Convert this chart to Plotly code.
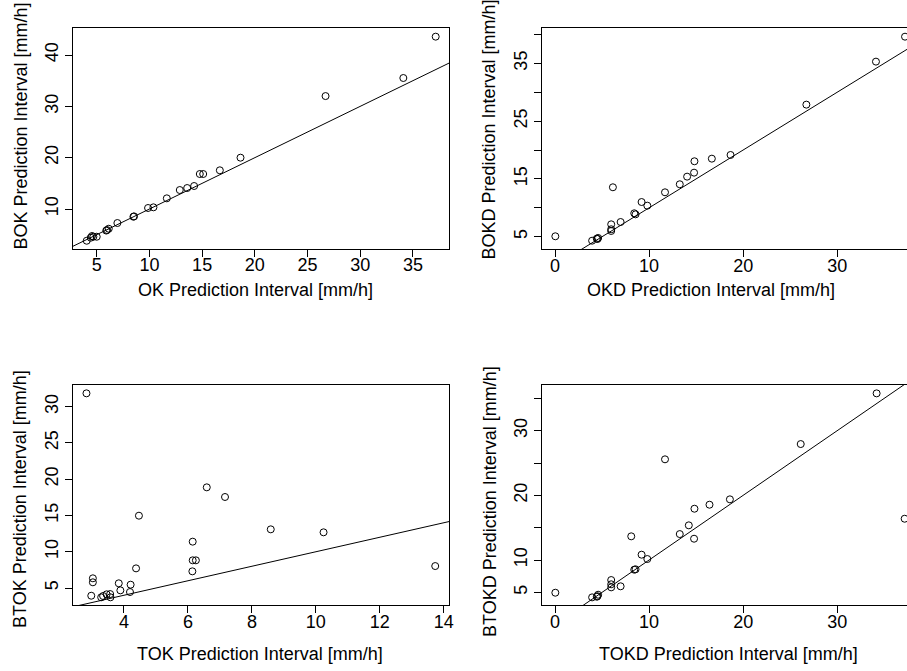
import plotly.graph_objects as go

# ---------------- data ----------------
ok_x = [37.16, 34.09, 26.71, 18.64, 16.68, 14.78, 15.10, 14.24, 13.58, 12.88, 11.65, 10.38,
        9.87, 8.54, 8.48, 6.96, 6.14, 5.98, 5.90, 5.00, 4.68, 4.55, 4.43, 4.05]
bok_y = [43.57, 35.52, 32.00, 20.00, 17.54, 16.82, 16.82, 14.48, 14.09, 13.70, 12.08, 10.33,
         10.20, 8.57, 8.50, 7.27, 6.16, 5.91, 5.80, 4.60, 4.60, 4.74, 4.41, 3.82]

okd_x = [37.21, 34.12, 26.72, 18.66, 16.67, 14.82, 14.78, 14.04, 13.26, 11.69, 9.20, 9.81,
         8.56, 8.42, 6.97, 6.15, 5.97, 5.97, 5.97, 4.58, 4.44, 4.51, 3.94, 0.03]
bokd_y = [39.61, 35.29, 27.85, 19.14, 18.50, 18.05, 16.08, 15.39, 14.07, 12.68, 11.00, 10.37,
          8.87, 9.05, 7.54, 13.55, 7.14, 6.28, 5.99, 4.78, 4.66, 4.60, 4.31, 5.07]

tok_x = [2.83, 6.59, 7.16, 4.47, 8.59, 10.24, 6.15, 6.15, 6.25, 6.14, 13.73, 4.38,
         3.03, 3.03, 2.98, 3.84, 3.89, 4.21, 4.19, 3.29, 3.35, 3.46, 3.57, 3.58]
btok_y = [31.84, 18.88, 17.55, 14.97, 13.09, 12.68, 11.39, 8.82, 8.82, 7.30, 8.03, 7.71,
          6.34, 5.79, 3.94, 5.65, 4.68, 5.46, 4.45, 3.72, 3.90, 4.13, 4.17, 3.72]

tokd_x = [34.19, 26.12, 11.69, 18.59, 16.42, 14.82, 14.22, 13.26, 14.78, 8.10, 9.20, 9.81,
          8.56, 8.42, 5.97, 5.97, 5.97, 6.97, 4.58, 4.44, 4.51, 3.94, 0.03, 37.17]
btokd_y = [35.77, 27.93, 25.57, 19.38, 18.55, 17.93, 15.36, 14.01, 13.29, 13.66, 10.82, 10.15,
           8.56, 8.50, 6.90, 6.24, 5.77, 5.93, 4.63, 4.32, 4.40, 4.22, 4.94, 16.38]

identity = [-10, 60]  # 1:1 reference line y = x

x_titles = ["OK Prediction Interval [mm/h]", "OKD Prediction Interval [mm/h]",
            "TOK Prediction Interval [mm/h]", "TOKD Prediction Interval [mm/h]"]
y_titles = ["BOK Prediction Interval [mm/h]", "BOKD Prediction Interval [mm/h]",
            "BTOK Prediction Interval [mm/h]", "BTOKD Prediction Interval [mm/h]"]

p1_xticks = [5, 10, 15, 20, 25, 30, 35]
p1_yticks = [10, 20, 30, 40]
p2_xticks = [0, 10, 20, 30]
p2_yticks = [5, 10, 15, 20, 25, 30, 35, 40]
p2_ytext = ["5", "", "15", "", "25", "", "35", ""]
p3_xticks = [4, 6, 8, 10, 12, 14]
p3_yticks = [5, 10, 15, 20, 25, 30]
p4_xticks = [0, 10, 20, 30]
p4_yticks = [5, 10, 15, 20, 25, 30, 35]
p4_ytext = ["5", "10", "", "20", "", "30", ""]

# ---------------- layout geometry ----------------
W, H = 907, 671
FONT = "Liberation Sans, Arial, Helvetica, sans-serif"
FS = 18

def px_x(p):
    return p / W

def px_y(p):
    return 1 - p / H

panels = [
    dict(x=ok_x, y=bok_y, xd=[72.7, 449.3], yd=[28.3, 248.7], xr=[2.72, 38.45], yr=[2.27, 45.2],
         xt=p1_xticks, yt=p1_yticks, ytt=[str(v) for v in p1_yticks], full=True,
         xtitle=(255.3, 290), ytitle=(20.7, 125.8)),
    dict(x=okd_x, y=bokd_y, xd=[541.7, 907], yd=[28.3, 249], xr=[-1.42, 37.42], yr=[2.87, 41.06],
         xt=p2_xticks, yt=p2_yticks, ytt=p2_ytext, full=False,
         xtitle=(710.8, 290), ytitle=(489.3, 129.2)),
    dict(x=tok_x, y=btok_y, xd=[72.7, 449.3], yd=[384.7, 605], xr=[2.40, 14.17], yr=[2.66, 33.03],
         xt=p3_xticks, yt=p3_yticks, ytt=[str(v) for v in p3_yticks], full=True,
         xtitle=(260.2, 654.3), ytitle=(20.7, 499.2)),
    dict(x=tokd_x, y=btokd_y, xd=[541.7, 907], yd=[384.7, 605], xr=[-1.42, 37.42], yr=[3.04, 37.11],
         xt=p4_xticks, yt=p4_yticks, ytt=p4_ytext, full=False,
         xtitle=(728.7, 654), ytitle=(489.3, 501.7)),
]

fig = go.Figure()
annotations = []
for i, p in enumerate(panels, start=1):
    xa = "x" if i == 1 else f"x{i}"
    ya = "y" if i == 1 else f"y{i}"
    fig.add_trace(go.Scatter(x=identity, y=identity, mode="lines",
                             line=dict(color="black", width=1),
                             xaxis=xa, yaxis=ya, showlegend=False, hoverinfo="skip"))
    fig.add_trace(go.Scatter(x=p["x"], y=p["y"], mode="markers",
                             marker=dict(symbol="circle-open", size=7,
                                         color="black", line=dict(color="black", width=1)),
                             xaxis=xa, yaxis=ya, showlegend=False))
    xkey = "xaxis" if i == 1 else f"xaxis{i}"
    ykey = "yaxis" if i == 1 else f"yaxis{i}"
    common = dict(showgrid=False, zeroline=False, showline=True, linecolor="black",
                  linewidth=1, ticks="outside", ticklen=7, tickwidth=1, tickcolor="black",
                  tickfont=dict(family=FONT, size=FS, color="black"), automargin=False)
    fig.layout[xkey] = dict(common, domain=[px_x(p["xd"][0]), px_x(p["xd"][1])],
                            range=p["xr"], tickmode="array", tickvals=p["xt"],
                            ticklabelstandoff=-7, anchor=ya, mirror=True)
    fig.layout[ykey] = dict(common, domain=[px_y(p["yd"][1]), px_y(p["yd"][0])],
                            range=p["yr"], tickmode="array", tickvals=p["yt"],
                            ticktext=p["ytt"], tickangle=-90, ticklabelstandoff=0,
                            anchor=xa, mirror=p["full"])
    tx, ty = p["xtitle"]
    annotations.append(dict(text=x_titles[i - 1], x=px_x(tx), y=px_y(ty), xref="paper",
                            yref="paper", xanchor="center", yanchor="middle", showarrow=False,
                            font=dict(family=FONT, size=FS, color="black")))
    lx, ly = p["ytitle"]
    annotations.append(dict(text=y_titles[i - 1], x=px_x(lx), y=px_y(ly), xref="paper",
                            yref="paper", xanchor="center", yanchor="middle", showarrow=False,
                            textangle=-90, font=dict(family=FONT, size=FS, color="black")))

fig.update_layout(width=W, height=H, margin=dict(l=0, r=0, t=0, b=0),
                  paper_bgcolor="white", plot_bgcolor="white",
                  annotations=annotations, font=dict(family=FONT, size=FS, color="black"))

fig.write_html("out.html")
